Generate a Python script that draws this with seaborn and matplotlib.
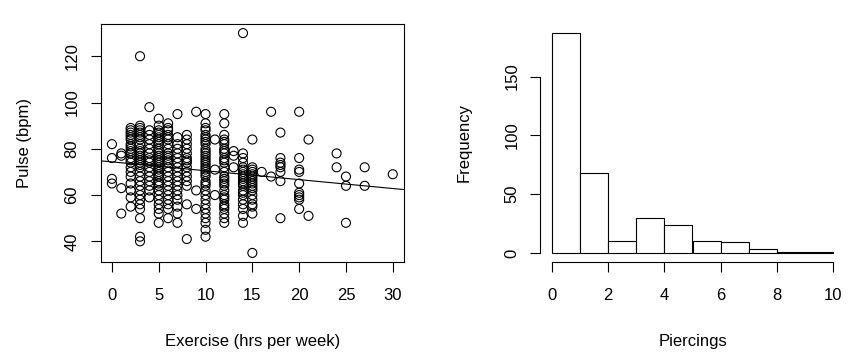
import numpy as np
import matplotlib
matplotlib.use('Agg')
import matplotlib.pyplot as plt
import seaborn as sns

# exercise (hrs per week) and pulse (bpm), one entry per student
exercise = [
  0, 0, 0, 0,
  1, 1, 1, 1,
  2, 2, 2, 2, 2, 2, 2, 2, 2, 2, 2, 2, 2, 2, 2, 2, 2, 2, 2, 2, 2,
  3, 3, 3, 3, 3, 3, 3, 3, 3, 3, 3, 3, 3, 3, 3, 3, 3, 3, 3, 3, 3, 3, 3, 3, 3, 3, 3, 3, 3, 3,
  4, 4, 4, 4, 4, 4, 4, 4, 4, 4, 4, 4, 4, 4, 4, 4, 4,
  5, 5, 5, 5, 5, 5, 5, 5, 5, 5, 5, 5, 5, 5, 5, 5, 5, 5, 5, 5, 5, 5, 5, 5, 5, 5, 5, 5, 5, 5, 5, 5,
  6, 6, 6, 6, 6, 6, 6, 6, 6, 6, 6, 6, 6, 6, 6, 6, 6, 6, 6, 6, 6, 6, 6, 6,
  7, 7, 7, 7, 7, 7, 7, 7, 7, 7, 7, 7, 7, 7, 7, 7, 7, 7,
  8, 8, 8, 8, 8, 8, 8, 8, 8, 8, 8, 8, 8, 8, 8,
  9, 9, 9,
  10, 10, 10, 10, 10, 10, 10, 10, 10, 10, 10, 10, 10, 10, 10, 10, 10, 10, 10, 10,
  10, 10, 10, 10, 10, 10, 10, 10, 10, 10, 10, 10, 10, 10, 10,
  11, 11, 11,
  12, 12, 12, 12, 12, 12, 12, 12, 12, 12, 12, 12, 12, 12, 12, 12, 12, 12, 12, 12,
  12, 12, 12, 12, 12, 12, 12, 12, 12,
  13, 13, 13,
  14, 14, 14, 14, 14, 14, 14, 14, 14, 14, 14, 14, 14, 14, 14, 14, 14, 14, 14, 14, 14,
  15, 15, 15, 15, 15, 15, 15, 15, 15, 15, 15, 15, 15, 15, 15, 15, 15, 15,
  16,
  17, 17,
  18, 18, 18, 18, 18, 18, 18, 18,
  20, 20, 20, 20, 20, 20, 20, 20, 20, 20,
  21, 21,
  24, 24,
  25, 25, 25,
  27, 27,
  30,
]
pulse = [
  82, 76, 67, 65,
  78, 77, 63, 52,
  89, 88, 87, 86, 85, 84, 82, 81, 80, 79, 78, 76, 75, 74, 72, 70, 68, 65, 62, 59, 55,
  120, 90, 89, 88, 87, 86, 85, 84, 82, 80, 79, 78, 77, 76, 75, 74, 73, 72, 70, 68, 66, 64, 62, 60, 58, 56, 54, 50, 42, 40,
  98, 88, 86, 84, 82, 80, 78, 76, 75, 74, 72, 70, 68, 66, 64, 62, 59,
  93, 90, 88, 87, 86, 85, 84, 83, 82, 80, 79, 78, 77, 76, 75, 74, 73, 72, 71, 70, 69, 68, 66, 65, 64, 62, 60, 58, 56, 54, 52, 48,
  91, 89, 88, 86, 85, 84, 82, 80, 78, 77, 76, 75, 74, 72, 70, 68, 66, 64, 62, 60, 58, 56, 54, 50,
  95, 85, 82, 80, 78, 76, 74, 72, 70, 68, 66, 64, 62, 60, 58, 55, 52, 48,
  86, 84, 82, 80, 78, 76, 75, 74, 72, 70, 68, 66, 64, 56, 41,
  96, 62, 54,
  95, 91, 89, 88, 86, 85, 84, 83, 82, 80, 79, 78, 77, 76, 75, 74, 73, 72, 71, 70,
  69, 68, 66, 65, 64, 62, 60, 58, 56, 54, 52, 50, 48, 45, 42,
  84, 71, 60,
  95, 91, 86, 84, 83, 82, 80, 79, 78, 76, 75, 74, 72, 70, 68, 67, 66, 65, 64, 62,
  60, 59, 58, 56, 55, 54, 52, 50, 48,
  79, 77, 72,
  130, 78, 76, 74, 72, 71, 70, 69, 68, 67, 66, 65, 64, 62, 61, 60, 58, 56, 54, 51, 48,
  84, 72, 71, 70, 69, 68, 67, 66, 65, 64, 63, 62, 60, 58, 56, 55, 52, 35,
  70,
  96, 68,
  87, 76, 74, 73, 72, 70, 66, 50,
  96, 76, 71, 70, 65, 61, 60, 59, 58, 54,
  84, 51,
  78, 72,
  68, 64, 48,
  72, 64,
  69,
]

# piercings histogram: bin left edges and counts
piercing_bins = [0, 1, 2, 3, 4, 5, 6, 7, 8, 9, 10]
piercings = [0, 1, 2, 3, 4, 5, 6, 7, 8, 9]
piercing_counts = [187, 68, 10, 30, 24, 10, 9, 3, 1, 1]

sns.set_theme(context='notebook', style='white')
plt.rcParams['font.family'] = ['Liberation Sans', 'DejaVu Sans']
plt.rcParams.update({
  'axes.edgecolor': 'black',
  'axes.linewidth': 0.8,
  'xtick.color': 'black',
  'ytick.color': 'black',
  'text.color': 'black',
  'axes.labelcolor': 'black',
})

W, H = 852, 359
fig = plt.figure(figsize=(W / 100, H / 100), dpi=100)
ax1 = fig.add_axes([100.7 / W, (H - 261.7) / H, 303.3 / W, 237.4 / H])
ax2 = fig.add_axes([540.4 / W, (H - 261.7) / H, 304.2 / W, 237.4 / H])

# left: scatter + least squares line
sns.scatterplot(x=exercise, y=pulse, ax=ax1, marker='o', s=42,
                color='black', linewidth=0.8)
ax1.collections[0].set_facecolor('none')
ax1.collections[0].set_edgecolor('black')
ax1.set_xlim(-1.2, 31.2)
ax1.set_ylim(31.2, 133.8)
sns.regplot(x=exercise, y=pulse, ax=ax1, scatter=False, ci=None, truncate=False,
            color='black', line_kws={'linewidth': 0.8})
ax1.set_xlim(-1.2, 31.2)
ax1.set_ylim(31.2, 133.8)
ax1.set_xticks([0, 5, 10, 15, 20, 25, 30])
ax1.set_yticks([40, 60, 80, 100, 120])
ax1.set_xlabel('Exercise (hrs per week)', fontsize=12)
ax1.set_ylabel('Pulse (bpm)', fontsize=12)

# right: histogram
sns.histplot(x=piercings, weights=piercing_counts, bins=piercing_bins, ax=ax2,
             color='white', edgecolor='black', linewidth=0.8, alpha=1)
ax2.set_xlim(-0.4, 10.4)
ax2.set_ylim(-7.48, 194.5)
ax2.set_xticks([0, 2, 4, 6, 8, 10])
ax2.set_yticks([0, 50, 100, 150])
ax2.spines['top'].set_visible(False)
ax2.spines['right'].set_visible(False)
ax2.spines['left'].set_bounds(0, 150)
ax2.spines['bottom'].set_bounds(0, 10)
ax2.set_xlabel('Piercings', fontsize=12)
ax2.set_ylabel('Frequency', fontsize=12)

for ax in (ax1, ax2):
  ax.grid(False)
  ax.tick_params(axis='both', direction='out', length=7.2, width=0.8,
                 labelsize=12, left=True, bottom=True)
  ax.tick_params(axis='x', pad=12)
  ax.tick_params(axis='y', pad=8)
  plt.setp(ax.get_yticklabels(), rotation=90, va='center')
  ax.xaxis.set_label_coords(0.5, -0.335)
  ax.xaxis.label.set_va('center')
  ax.yaxis.set_label_coords(-0.25, 0.5)
  ax.yaxis.label.set_va('center')

fig.savefig('out.png', dpi=100)
